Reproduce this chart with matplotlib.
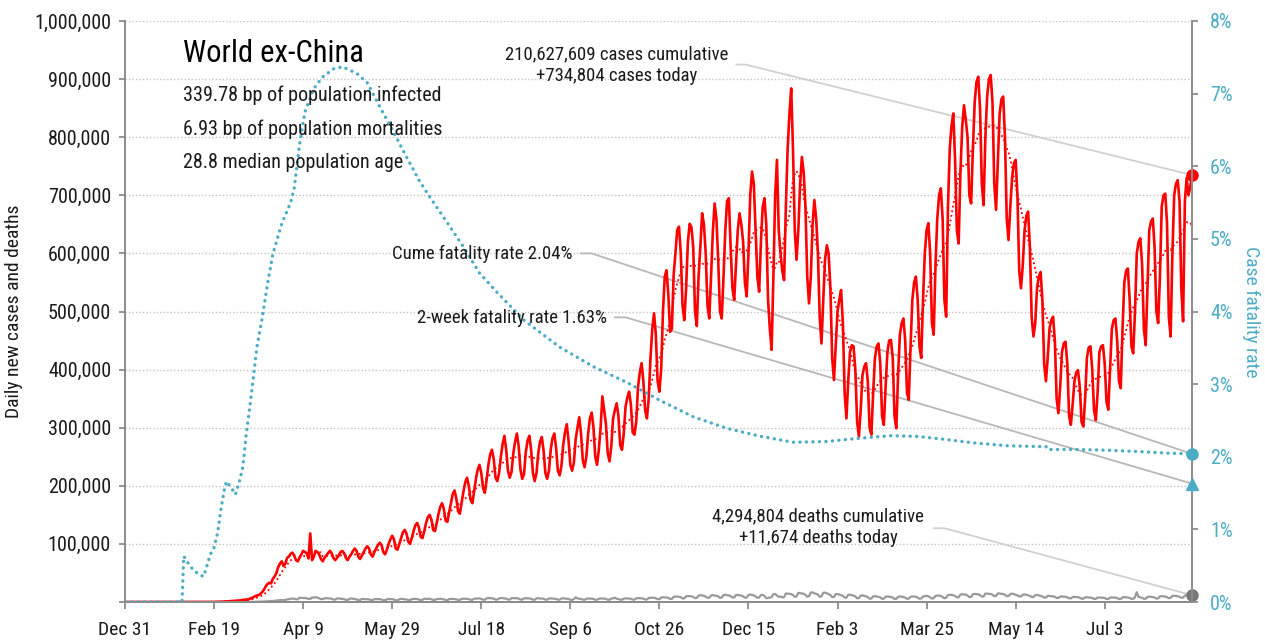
import matplotlib
matplotlib.use("Agg")
import matplotlib.pyplot as plt
import numpy as np
import pandas as pd
from matplotlib import font_manager
from matplotlib.ticker import FixedLocator, FuncFormatter

# ---------------- data ----------------
tick_days = [0, 50, 100, 150, 200, 250, 300, 350, 400, 450, 500, 550]
tick_labels = ["Dec 31", "Feb 19", "Apr 9", "May 29", "Jul 18", "Sep 6",
               "Oct 26", "Dec 15", "Feb 3", "Mar 25", "May 14", "Jul 3"]

# daily new cases (thousands), one row per week starting Tuesday Dec 31 2019
cases_k = [
    0, 0, 0, 0, 0, 0, 0,
    0, 0, 0, 0, 0, 0, 0,
    0, 0, 0, 0, 0, 0, 0,
    0, 0, 0, 0, 0, 0, 0,
    0, 0, 0, 0, 0, 0, 0,
    0, 0, 0, 0, 0, 0, 0,
    0, 0.1, 0.1, 0.1, 0, 0.1, 0,
    0.1, 0.1, 0.3, 0.3, 0.4, 0.6, 0.6,
    0.9, 1.0, 1.2, 1.5, 1.7, 1.9, 2.0,
    2.2, 2.5, 2.8, 3.5, 3.9, 4.0, 4.5,
    5.5, 7, 8, 10, 11, 12, 14,
    17, 21, 27, 31, 33, 32, 40,
    44, 50, 60, 66, 70, 62, 66,
    76, 78, 83, 85, 80, 72, 70,
    76, 82, 88, 86, 84, 75, 118,
    72, 78, 88, 86, 82, 74, 70,
    76, 80, 84, 88, 84, 76, 72,
    76, 80, 86, 88, 84, 76, 72,
    78, 82, 88, 92, 88, 78, 74,
    80, 86, 92, 96, 92, 82, 78,
    86, 92, 98, 102, 98, 86, 82,
    90, 100, 108, 114, 108, 92, 90,
    100, 110, 120, 124, 118, 104, 100,
    110, 122, 132, 136, 128, 112, 110,
    122, 136, 146, 150, 142, 124, 122,
    136, 152, 164, 170, 160, 140, 138,
    155, 170, 186, 192, 178, 156, 152,
    172, 190, 206, 214, 200, 176, 170,
    190, 212, 228, 236, 222, 196, 188,
    210, 236, 254, 262, 246, 214, 208,
    222, 250, 272, 286, 262, 226, 214,
    224, 256, 276, 290, 268, 228, 212,
    220, 258, 278, 286, 262, 222, 208,
    222, 256, 276, 284, 260, 222, 212,
    226, 262, 282, 290, 266, 226, 218,
    234, 270, 292, 306, 278, 236, 226,
    240, 280, 300, 318, 290, 244, 232,
    250, 290, 316, 326, 300, 250, 236,
    262, 300, 354, 330, 306, 256, 242,
    268, 316, 330, 342, 320, 270, 262,
    290, 336, 352, 362, 340, 292, 288,
    310, 370, 395, 411, 380, 330, 316,
    350, 420, 470, 497, 460, 380, 362,
    400, 500, 560, 571, 530, 465, 470,
    563, 600, 640, 646, 600, 510, 485,
    540, 620, 651, 645, 610, 500, 475,
    560, 612, 669, 650, 600, 510, 488,
    560, 637, 686, 660, 590, 500, 488,
    560, 640, 690, 695, 610, 540, 520,
    580, 640, 669, 650, 620, 550, 526,
    600, 700, 741, 720, 640, 560, 534,
    620, 680, 695, 650, 520, 470, 434,
    560, 700, 761, 640, 600, 570, 554,
    680, 780, 840, 884, 780, 640, 589,
    640, 720, 766, 740, 680, 560, 514,
    560, 650, 692, 660, 600, 490, 445,
    520, 590, 614, 600, 540, 420, 382,
    440, 500, 520, 537, 480, 360, 316,
    380, 430, 442, 440, 400, 310, 285,
    330, 390, 405, 411, 380, 300, 288,
    360, 420, 440, 445, 410, 320, 305,
    370, 430, 450, 451, 420, 320, 299,
    390, 460, 480, 488, 450, 360, 348,
    440, 520, 550, 560, 520, 440, 420,
    520, 600, 640, 652, 600, 480, 460,
    580, 660, 700, 712, 660, 520, 491,
    680, 780, 820, 841, 760, 640, 617,
    740, 818, 855, 830, 800, 700, 686,
    780, 860, 895, 904, 850, 720, 683,
    800, 870, 900, 907, 860, 720, 675,
    760, 840, 865, 870, 800, 660, 623,
    680, 730, 755, 761, 700, 570, 540,
    580, 640, 665, 672, 610, 490, 457,
    480, 540, 560, 568, 520, 410, 380,
    420, 470, 485, 491, 450, 350, 325,
    370, 430, 445, 448, 410, 320, 305,
    340, 380, 395, 399, 370, 310, 302,
    350, 420, 438, 440, 400, 330, 313,
    360, 430, 440, 442, 410, 345, 331,
    400, 470, 485, 488, 450, 380, 368,
    470, 550, 570, 574, 520, 440, 428,
    500, 600, 620, 626, 580, 470, 442,
    540, 640, 655, 660, 610, 500, 480,
    560, 680, 700, 703, 650, 490, 457,
    600, 700, 720, 726, 690, 540, 483,
    690, 730, 700, 715, 734.804,
]

# daily new deaths (thousands), same layout
deaths_k = [
    0, 0, 0, 0, 0, 0, 0,
    0, 0, 0, 0, 0, 0, 0,
    0, 0, 0, 0, 0, 0, 0,
    0, 0, 0, 0, 0, 0, 0,
    0, 0, 0, 0, 0, 0, 0,
    0, 0, 0, 0, 0, 0, 0,
    0, 0, 0, 0, 0, 0, 0,
    0, 0, 0, 0, 0, 0, 0,
    0, 0, 0, 0, 0, 0, 0,
    0.1, 0.1, 0.1, 0.1, 0.1, 0.1, 0.2,
    0.2, 0.2, 0.3, 0.3, 0.4, 0.4, 0.6,
    0.7, 0.8, 1.0, 1.1, 1.5, 1.6, 1.8,
    2.2, 2.5, 2.8, 3.3, 3.5, 3.3, 3.4,
    4.5, 4.8, 5.4, 6.0, 5.5, 4.8, 4.5,
    7.4, 7.0, 6.9, 7.0, 6.2, 5.5, 5.2,
    7.8, 7.3, 8.5, 7.5, 6.3, 5.0, 4.9,
    6.5, 6.5, 6.3, 6.0, 5.6, 4.3, 4.1,
    6.0, 6.2, 5.6, 5.3, 4.9, 3.8, 3.4,
    5.5, 6.1, 5.5, 5.1, 4.4, 3.6, 3.3,
    5.3, 5.0, 4.8, 4.8, 4.4, 3.5, 3.3,
    4.9, 5.0, 4.8, 5.0, 4.3, 3.3, 3.0,
    4.5, 5.2, 4.9, 4.9, 4.2, 3.1, 3.0,
    4.5, 5.6, 5.0, 4.7, 4.4, 3.4, 3.5,
    4.8, 5.3, 5.3, 5.0, 4.2, 3.4, 3.7,
    5.8, 5.3, 5.3, 5.6, 4.6, 3.6, 3.7,
    5.1, 5.2, 5.4, 5.2, 4.6, 3.5, 3.3,
    4.9, 5.3, 5.3, 5.0, 4.6, 3.6, 3.5,
    5.6, 5.6, 5.5, 5.4, 5.0, 3.8, 3.7,
    5.8, 5.8, 5.8, 6.3, 5.3, 4.0, 3.9,
    6.4, 7.0, 6.5, 6.4, 5.7, 4.2, 4.1,
    6.3, 6.9, 6.6, 6.2, 5.7, 4.3, 4.0,
    6.5, 6.9, 6.4, 6.6, 5.7, 4.2, 4.1,
    6.2, 6.6, 6.1, 6.3, 5.5, 4.0, 3.8,
    6.3, 6.6, 5.9, 6.1, 5.6, 4.2, 3.9,
    6.0, 6.2, 6.0, 5.7, 5.4, 4.0, 4.0,
    6.1, 6.3, 6.0, 5.6, 5.3, 3.9, 3.4,
    5.0, 8.0, 6.1, 5.7, 5.3, 4.2, 3.8,
    5.4, 6.0, 5.8, 5.8, 5.2, 4.0, 3.9,
    5.6, 6.1, 6.0, 5.8, 5.3, 3.9, 3.8,
    6.0, 6.2, 7.5, 5.6, 5.2, 4.0, 3.8,
    5.8, 6.3, 6.0, 6.0, 5.6, 4.1, 4.0,
    6.2, 6.7, 6.5, 6.4, 5.8, 4.3, 4.3,
    6.9, 7.2, 7.5, 7.3, 6.4, 4.7, 4.8,
    7.5, 8.2, 8.0, 7.7, 7.1, 5.3, 5.4,
    8.8, 9.5, 9.3, 9.0, 8.2, 6.2, 6.3,
    9.8, 10.3, 10.0, 9.8, 8.8, 6.6, 7.0,
    11.0, 11.8, 11.2, 10.6, 9.4, 7.0, 7.5,
    11.2, 12.0, 11.0, 10.8, 9.6, 7.0, 7.8,
    11.9, 12.6, 11.6, 11.3, 10.2, 7.6, 7.8,
    12.0, 12.2, 11.6, 11.2, 9.6, 7.4, 7.6,
    12.0, 12.8, 12.1, 11.4, 9.5, 7.3, 7.6,
    12.0, 12.3, 10.5, 6.5, 7.0, 7.6, 8.5,
    13.5, 13.8, 11.0, 9.0, 9.5, 7.8, 8.5,
    14.5, 14.5, 14.0, 13.5, 12.0, 9.0, 9.5,
    15.8, 15.2, 14.8, 14.0, 12.4, 9.2, 9.8,
    16.5, 16.6, 14.8, 14.2, 12.8, 9.0, 9.6,
    15.8, 16.2, 15.0, 13.5, 12.0, 8.4, 8.6,
    13.5, 13.8, 12.8, 12.0, 10.6, 7.6, 7.4,
    12.5, 12.5, 11.8, 11.0, 9.6, 6.4, 6.6,
    11.0, 11.4, 10.6, 9.8, 8.2, 5.8, 6.0,
    9.6, 10.2, 9.4, 8.8, 7.8, 5.4, 5.6,
    9.2, 9.4, 9.0, 8.6, 7.6, 5.2, 5.5,
    8.8, 9.6, 9.2, 8.6, 7.4, 5.4, 5.8,
    9.0, 9.4, 9.4, 9.0, 7.6, 5.6, 6.0,
    9.4, 10.0, 10.6, 9.8, 8.0, 5.8, 6.6,
    10.4, 11.0, 11.2, 10.4, 8.6, 6.4, 7.4,
    12.0, 12.4, 12.2, 11.6, 10.4, 7.8, 8.2,
    12.8, 13.4, 13.0, 12.6, 11.0, 8.4, 8.8,
    13.4, 14.0, 13.6, 13.2, 11.8, 9.4, 9.6,
    14.4, 14.6, 14.0, 13.8, 12.6, 10.0, 10.6,
    14.8, 14.6, 14.0, 13.8, 12.4, 10.0, 10.2,
    13.6, 14.4, 13.4, 12.6, 11.6, 9.6, 9.6,
    12.6, 13.0, 12.4, 11.6, 10.4, 8.6, 8.4,
    11.8, 12.0, 11.2, 10.6, 9.6, 7.6, 7.6,
    10.6, 10.6, 9.8, 9.8, 8.8, 7.0, 7.0,
    9.4, 9.6, 9.0, 9.0, 8.0, 6.4, 6.2,
    8.4, 8.8, 8.6, 8.2, 7.2, 5.8, 5.6,
    8.0, 8.2, 7.8, 7.6, 6.8, 5.4, 5.4,
    7.6, 7.8, 7.4, 7.4, 6.8, 5.2, 5.2,
    7.4, 7.8, 7.6, 7.6, 6.8, 5.2, 5.2,
    7.8, 8.6, 8.0, 7.8, 6.8, 5.4, 5.6,
    8.2, 17.0, 8.8, 8.0, 7.0, 5.6, 5.6,
    8.8, 9.2, 8.8, 8.6, 7.6, 6.0, 6.2,
    9.6, 10.2, 9.6, 9.4, 8.2, 6.6, 7.2,
    10.4, 10.8, 10.4, 10.0, 9.0, 7.2, 7.6,
    11.0, 11.4, 11.2, 11.0, 11.674,
]

# cumulative case fatality rate (%), read at selected days
cfr_days = [0, 32, 33, 35, 38, 41, 44, 45, 47, 48, 50, 52, 54, 56, 57, 60, 62,
            64, 66, 67, 68, 70, 72, 74, 77, 80, 83, 88, 93, 95, 98, 101, 106,
            111, 117, 122, 130, 136, 143, 151, 158, 165, 171, 181, 190, 199,
            209, 224, 244, 263, 282, 300, 319, 338, 357, 375, 394, 410, 430,
            445, 460, 477, 496, 514, 517, 518, 534, 552, 570, 585, 599]
cfr_pct = [0, 0, 0.63, 0.55, 0.45, 0.39, 0.35, 0.42, 0.58, 0.66, 0.75, 0.95,
           1.3, 1.58, 1.66, 1.56, 1.48, 1.64, 1.84, 2.05, 2.3, 2.67, 3.08,
           3.5, 3.91, 4.38, 4.79, 5.21, 5.5, 5.7, 6.3, 6.75, 7.07, 7.23, 7.34,
           7.37, 7.28, 7.15, 6.82, 6.46, 6.13, 5.81, 5.58, 5.22, 4.89, 4.53,
           4.26, 3.88, 3.51, 3.24, 3.02, 2.78, 2.55, 2.39, 2.28, 2.2, 2.21,
           2.25, 2.29, 2.28, 2.24, 2.19, 2.15, 2.14, 2.14, 2.1, 2.1, 2.09,
           2.07, 2.05, 2.04]
two_week_cfr_pct = 1.63

title = "World ex-China"
subtitle_lines = ["339.78 bp of population infected",
                  "6.93 bp of population mortalities",
                  "28.8 median population age"]
cases_note = "210,627,609 cases cumulative\n+734,804 cases today"
deaths_note = "4,294,804 deaths cumulative\n+11,674 deaths today"
cume_note = "Cume fatality rate 2.04%"
twoweek_note = "2-week fatality rate 1.63%"

# ---------------- fonts ----------------
available = {f.name for f in font_manager.fontManager.ttflist}
fam = None
for cand in ["Liberation Sans Narrow", "Roboto Condensed", "Open Sans Condensed",
             "Roboto", "Liberation Sans"]:
    if cand in available:
        fam = cand
        break
plt.rcParams['font.family'] = [fam, 'DejaVu Sans'] if fam else ['DejaVu Sans']

RED = "#ff0000"
TEAL = "#4bacc6"
GRAY = "#999999"
TXT = "#1a1a1a"

cases = np.array(cases_k) * 1000.0
deaths = np.array(deaths_k) * 1000.0
days = np.arange(len(cases))
avg7 = pd.Series(cases).rolling(7, min_periods=1).mean().values
last = days[-1]

fig = plt.figure(figsize=(12.65, 6.4), dpi=100)
L, R, T, B = 125, 1192, 21, 602
ax = fig.add_axes([L / 1265, 1 - B / 640, (R - L) / 1265, (B - T) / 640])
ax2 = ax.twinx()

ax.set_xlim(0, last)
ax.set_ylim(0, 1_000_000)
ax2.set_ylim(0, 0.08)

# grid
for v in range(100_000, 1_000_001, 100_000):
    ax.axhline(v, color="#c4c4c4", lw=1.0, ls=(0, (1, 1.5)), zorder=0)

# connectors (drawn in left-axis data units)
def to_left(p):
    return p / 100.0 / 0.08 * 1_000_000

conn = dict(lw=1.3, solid_capstyle="butt", zorder=1)
ax.plot([342.7, 348.3, last], [925_000, 925_000, cases[-1]], color="#d0d0d0", **conn)
ax.plot([255.5, 262.0, last], [600_000, 600_000, to_left(cfr_pct[-1])], color="#b8b8b8", **conn)
ax.plot([274.5, 281.0, last], [490_000, 490_000, to_left(two_week_cfr_pct)], color="#b8b8b8", **conn)
ax.plot([453.5, 460.0, last], [127_000, 127_000, deaths[-1]], color="#d0d0d0", **conn)

# series
ax.plot(days, deaths, color=GRAY, lw=1.6, zorder=2)
ax.plot(days, avg7, color=RED, lw=1.3, ls=(0, (1, 1.6)), zorder=3)
ax.plot(days, cases, color=RED, lw=1.9, zorder=4, solid_joinstyle="round")
ax.plot([last], [cases[-1]], "o", color=RED, ms=8, zorder=6, clip_on=False)
ax.plot([last], [deaths[-1]], "o", color="#777777", ms=8, zorder=6, clip_on=False)

ax2.plot(cfr_days, np.array(cfr_pct) / 100, color=TEAL, lw=2.4,
         ls=(0, (0.05, 1.9)), dash_capstyle="round", zorder=3)
ax2.plot([last], [cfr_pct[-1] / 100], "o", color=TEAL, ms=8, clip_on=False, zorder=6)
ax2.plot([last], [two_week_cfr_pct / 100], "^", color=TEAL, ms=9, clip_on=False, zorder=6)

# axes styling
for a in (ax, ax2):
    a.spines["top"].set_visible(False)
    for s in ("left", "right", "bottom"):
        a.spines[s].set_color("#8c8c8c")
        a.spines[s].set_linewidth(1.4)
ax.spines["right"].set_visible(False)
ax2.spines["left"].set_visible(False)

ax.xaxis.set_major_locator(FixedLocator(tick_days))
ax.set_xticklabels(tick_labels)
ax.yaxis.set_major_locator(FixedLocator(list(range(0, 1_000_001, 100_000))))
ax.yaxis.set_major_formatter(FuncFormatter(lambda v, p: "" if v == 0 else f"{int(v):,}"))
ax2.yaxis.set_major_locator(FixedLocator([i / 100 for i in range(0, 9)]))
ax2.yaxis.set_major_formatter(FuncFormatter(lambda v, p: f"{round(v * 100):d}%"))

ax.tick_params(axis="x", length=5, width=1.3, color="#8c8c8c", pad=9,
               labelsize=14, labelcolor=TXT)
ax.tick_params(axis="y", length=4, width=1.3, color="#8c8c8c", pad=6,
               labelsize=14.5, labelcolor=TXT)
ax2.tick_params(axis="y", length=4, width=1.3, color="#8c8c8c", pad=9,
                labelsize=14.5, labelcolor=TEAL)

ax.set_ylabel("Daily new cases and deaths", fontsize=14, color=TXT, labelpad=8)
ax2.set_ylabel("Case fatality rate", fontsize=14, color=TEAL, rotation=270,
               labelpad=20)

# texts
fig.text(183 / 1265, 1 - 53 / 640, title, fontsize=22, color="#000000",
         ha="left", va="center")
for i, line in enumerate(subtitle_lines):
    fig.text(183 / 1265, 1 - (95 + 34 * i) / 640, line, fontsize=14.5,
             color=TXT, ha="left", va="center")

fig.text(617 / 1265, 1 - 65 / 640, cases_note, fontsize=13.5, color=TXT,
         ha="center", va="center", linespacing=1.3, zorder=10)
fig.text(818 / 1265, 1 - 527 / 640, deaths_note, fontsize=13.5, color=TXT,
         ha="center", va="center", linespacing=1.3, zorder=10)
fig.text(573 / 1265, 1 - 254 / 640, cume_note, fontsize=13.5, color=TXT,
         ha="right", va="center", zorder=10)
fig.text(607 / 1265, 1 - 318 / 640, twoweek_note, fontsize=13.5, color=TXT,
         ha="right", va="center", zorder=10)

fig.savefig("out.png", dpi=100, facecolor="white")
